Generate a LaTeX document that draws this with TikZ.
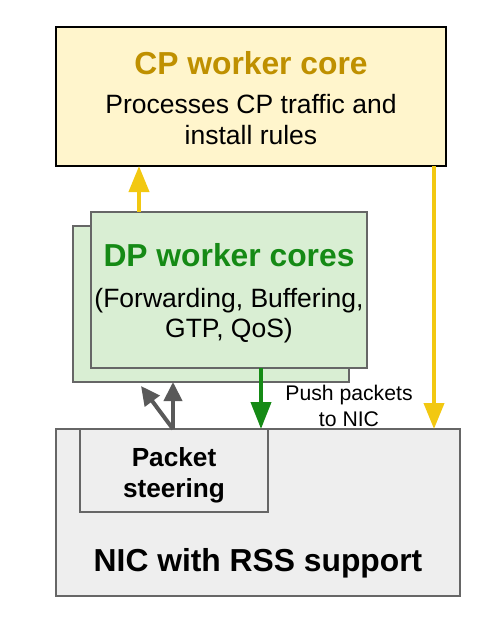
\documentclass[tikz,border=0pt]{standalone}
\usepackage{fontspec}
\setmainfont{Liberation Sans}
\usetikzlibrary{arrows.meta}
\definecolor{cpfill}{HTML}{FFF5CC}
\definecolor{cptitle}{HTML}{BF9000}
\definecolor{ylw}{HTML}{F2C811}
\definecolor{dpfill}{HTML}{D9EED3}
\definecolor{dpgreen}{HTML}{158A15}
\definecolor{grayline}{HTML}{666666}
\definecolor{grayarrow}{HTML}{595959}
\definecolor{nicfill}{HTML}{EEEEEE}
\tikzset{
  box/.style={anchor=north west, inner sep=0pt, outer sep=0pt},
  txt/.style={anchor=base, inner sep=0pt},
  big/.style={font=\fontsize{31.8}{36}\selectfont\bfseries},
  mid/.style={font=\fontsize{26.5}{31}\selectfont},
  midb/.style={font=\fontsize{26.2}{31}\selectfont\bfseries},
  small/.style={font=\fontsize{21.2}{25}\selectfont},
  yarrow/.style={draw=ylw, line width=4pt, -{Triangle[width=20pt,length=26pt]}},
  garrow/.style={draw=grayarrow, line width=4pt, -{Triangle[width=18pt,length=19pt]}},
  grarrow/.style={draw=dpgreen, line width=4pt, -{Triangle[width=20pt,length=27pt]}},
}
\begin{document}
\begin{tikzpicture}[x=1pt,y=-1pt]
\useasboundingbox (0,0) rectangle (499,632);
% CP box
\node[box, draw=black, line width=2.5pt, fill=cpfill, minimum width=390pt, minimum height=139pt] (cp) at (56,27) {};
\node[txt, big, text=cptitle] (cpt) at (251,74.5) {CP worker core};
\node[txt, mid] (cp1) at (251,113) {Processes CP traffic and};
\node[txt, mid] (cp2) at (251,144) {install rules};
% DP boxes
\node[box, draw=grayline, line width=2pt, fill=dpfill, minimum width=276pt, minimum height=156pt] (dpb) at (73,226) {};
\node[box, draw=grayline, line width=2pt, fill=dpfill, minimum width=276pt, minimum height=156pt] (dpf) at (91,212) {};
\node[txt, big, text=dpgreen] (dpt) at (229,266.5) {DP worker cores};
\node[txt, mid] (dp1) at (229,307) {(Forwarding, Buffering,};
\node[txt, mid] (dp2) at (229,337) {GTP, QoS)};
% NIC box
\node[box, draw=grayline, line width=2pt, fill=nicfill, minimum width=404pt, minimum height=167pt] (nic) at (56,429) {};
\node[box, draw=grayline, line width=2pt, fill=nicfill, minimum width=188pt, minimum height=83pt] (ps) at (80,429) {};
\node[txt, midb] (ps1) at (174,466) {Packet};
\node[txt, midb] (ps2) at (174,497) {steering};
\node[txt, big] (nict) at (258,571) {NIC with RSS support};
% Push label
\node[txt, small] (push1) at (349,400) {Push packets};
\node[txt, small] (push2) at (349,426) {to NIC};
% arrows
\coordinate (diagtip) at (141,386);
\draw[yarrow] (dpf.north -| 139,0) -- (cp.south -| 139,0);
\draw[yarrow] (cp.south -| 434,0) -- (nic.north -| 434,0);
\draw[garrow] (ps.north -| 173,0) -- (dpb.south -| 173,0);
\draw[garrow] (ps.north -| 173,0) -- (diagtip);
\draw[grarrow] (dpf.south -| 261,0) -- (nic.north -| 261,0);
\end{tikzpicture}
\end{document}
